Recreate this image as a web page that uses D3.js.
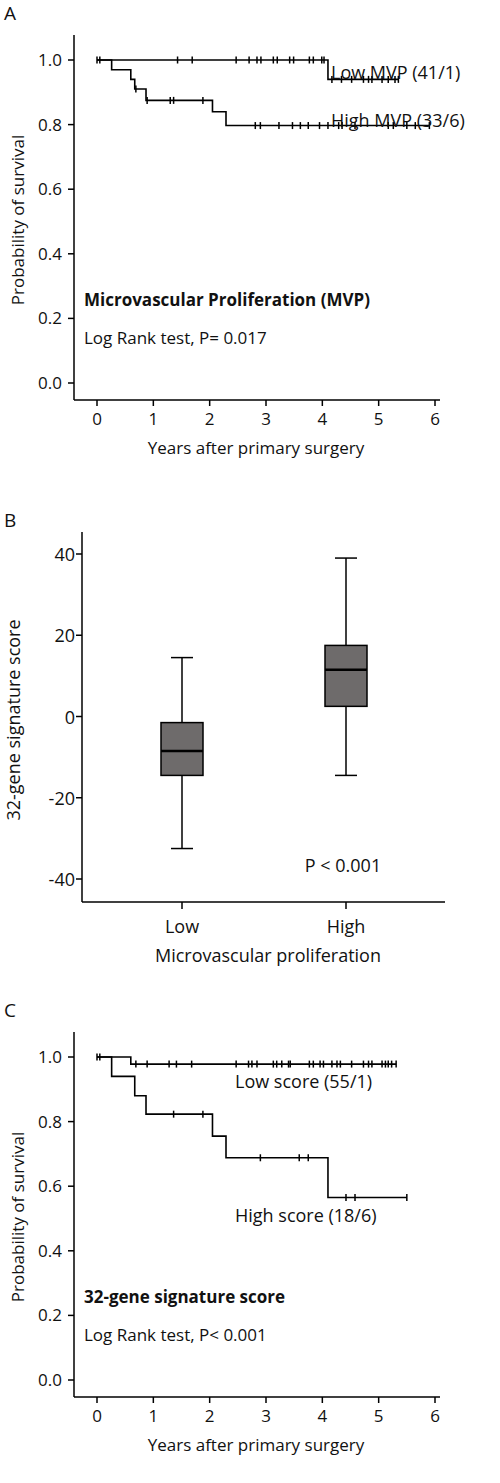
<!DOCTYPE html>
<html><head><meta charset="utf-8">
<script src="https://cdn.jsdelivr.net/npm/d3@7"></script>
<style>body{margin:0;background:#fff}text{font-family:"Open Sans",sans-serif;fill:#111}</style>
</head><body><svg id="chart" width="500" height="1483"></svg>
<script>
// panel A: [time, survival] step points and censor times
const lowMvpSteps = [[0, 1], [4.1, 0.94]]
const lowMvpCensor = [0, 0.05, 1.43, 1.69, 2.47, 2.70, 2.84, 2.91, 3.13, 3.20, 3.42, 3.49, 3.77, 3.84, 3.99, 4.03, 4.17, 4.34, 4.52, 4.73, 4.82, 4.88, 5.06, 5.17, 5.29, 5.35]
const highMvpSteps = [[0, 1], [0.26, 0.97], [0.60, 0.94], [0.67, 0.91], [0.87, 0.875], [2.05, 0.84], [2.29, 0.797]]
const highMvpCensor = [0.69, 0.89, 1.30, 1.36, 1.88, 2.81, 2.90, 3.23, 3.47, 3.61, 3.75, 3.95, 4.10, 4.29, 4.35, 4.58, 5.17, 5.26, 5.50, 5.65, 5.9]

// panel B: box stats [min, q1, median, q3, max]
const groups = ['Low', 'High']
const boxStats = [[-32.5, -14.5, -8.5, -1.5, 14.5], [-14.5, 2.5, 11.5, 17.5, 39]]

// panel C
const lowScoreSteps = [[0, 1], [0.6, 0.978]]
const lowScoreCensor = [0, 0.05, 0.69, 0.89, 1.28, 1.41, 1.68, 2.47, 2.69, 2.75, 2.84, 3.13, 3.19, 3.28, 3.40, 3.43, 3.77, 3.84, 3.96, 4.02, 4.17, 4.26, 4.32, 4.52, 4.73, 4.82, 4.88, 5.06, 5.12, 5.17, 5.23, 5.31]
const highScoreSteps = [[0, 1], [0.26, 0.94], [0.67, 0.88], [0.87, 0.823], [2.05, 0.755], [2.29, 0.688], [4.1, 0.565]]
const highScoreCensor = [1.36, 1.88, 2.90, 3.59, 3.75, 4.42, 4.58, 5.50]

const survTicks = [0, 0.2, 0.4, 0.6, 0.8, 1.0]
const yearTicks = [0, 1, 2, 3, 4, 5, 6]
const scoreTicks = [-40, -20, 0, 20, 40]

const svg = d3.select('#chart')

function kmPanel(top, letter, curves, title, pText) {
  const g = svg.append('g')
  const x = d3.scaleLinear().domain([0, 6]).range([97, 435])
  const y = d3.scaleLinear().domain([0, 1]).range([top + 323, top])
  const base = top + 340

  g.append('text').attr('x', 4).attr('y', top - 40).attr('font-size', 19).text(letter)
  g.append('line').attr('x1', 74).attr('x2', 74).attr('y1', top - 25).attr('y2', base).attr('stroke', '#000').attr('stroke-width', 1.5)
  g.append('line').attr('x1', 74).attr('x2', 440).attr('y1', base).attr('y2', base).attr('stroke', '#000').attr('stroke-width', 1.5)
  survTicks.forEach(t => {
    g.append('line').attr('x1', 68).attr('x2', 74).attr('y1', y(t)).attr('y2', y(t)).attr('stroke', '#000').attr('stroke-width', 1.5)
    g.append('text').attr('x', 62).attr('y', y(t) + 6).attr('text-anchor', 'end').attr('font-size', 17).text(t.toFixed(1))
  })
  yearTicks.forEach(t => {
    g.append('line').attr('x1', x(t)).attr('x2', x(t)).attr('y1', base).attr('y2', base + 6).attr('stroke', '#000').attr('stroke-width', 1.5)
    g.append('text').attr('x', x(t)).attr('y', base + 25).attr('text-anchor', 'middle').attr('font-size', 17).text(t)
  })
  g.append('text').attr('x', 256).attr('y', base + 54).attr('text-anchor', 'middle').attr('font-size', 17).text('Years after primary surgery')
  g.append('text').attr('transform', `translate(24,${top + 160}) rotate(-90)`).attr('text-anchor', 'middle').attr('font-size', 17).text('Probability of survival')

  curves.forEach(c => {
    const end = d3.max(c.censor.concat(c.steps.map(s => s[0])))
    const pts = c.steps.concat([[end, c.steps[c.steps.length - 1][1]]])
    const line = d3.line().x(d => x(d[0])).y(d => y(d[1])).curve(d3.curveStepAfter)
    g.append('path').attr('d', line(pts)).attr('fill', 'none').attr('stroke', '#000').attr('stroke-width', 1.6)
    const survAt = t => { let s = 1; c.steps.forEach(p => { if (p[0] <= t) s = p[1] }); return s }
    c.censor.forEach(t => {
      g.append('line').attr('x1', x(t)).attr('x2', x(t)).attr('y1', y(survAt(t)) - 3.5).attr('y2', y(survAt(t)) + 3.5).attr('stroke', '#000').attr('stroke-width', 1.5)
    })
    g.append('text').attr('x', c.lx).attr('y', c.ly).attr('font-size', 18).text(c.label)
  })
  g.append('text').attr('x', 84).attr('y', top + 246).attr('font-size', 17).attr('font-weight', 'bold').text(title)
  g.append('text').attr('x', 84).attr('y', top + 284).attr('font-size', 17).text(pText)
}

kmPanel(60, 'A', [
  { steps: lowMvpSteps, censor: lowMvpCensor, label: 'Low MVP (41/1)', lx: 331, ly: 79 },
  { steps: highMvpSteps, censor: highMvpCensor, label: 'High MVP (33/6)', lx: 331, ly: 127 }
], 'Microvascular Proliferation (MVP)', 'Log Rank test, P= 0.017')

kmPanel(1057, 'C', [
  { steps: lowScoreSteps, censor: lowScoreCensor, label: 'Low score (55/1)', lx: 235, ly: 1088 },
  { steps: highScoreSteps, censor: highScoreCensor, label: 'High score (18/6)', lx: 235, ly: 1222 }
], '32-gene signature score', 'Log Rank test, P< 0.001')

// panel B boxplot
{
  const g = svg.append('g')
  const x = d3.scalePoint().domain(groups).range([182, 346])
  const y = d3.scaleLinear().domain([-40, 40]).range([879, 554])
  const w = 42
  const base = 902
  g.append('text').attr('x', 4).attr('y', 527).attr('font-size', 19).text('B')
  g.append('line').attr('x1', 82).attr('x2', 82).attr('y1', 532).attr('y2', base).attr('stroke', '#000').attr('stroke-width', 1.5)
  g.append('line').attr('x1', 82).attr('x2', 445).attr('y1', base).attr('y2', base).attr('stroke', '#000').attr('stroke-width', 1.5)
  scoreTicks.forEach(t => {
    g.append('line').attr('x1', 76).attr('x2', 82).attr('y1', y(t)).attr('y2', y(t)).attr('stroke', '#000').attr('stroke-width', 1.5)
    g.append('text').attr('x', 75).attr('y', y(t) + 7).attr('text-anchor', 'end').attr('font-size', 18).text(t)
  })
  groups.forEach((grp, i) => {
    const cx = x(grp)
    g.append('line').attr('x1', cx).attr('x2', cx).attr('y1', base).attr('y2', base + 7).attr('stroke', '#000').attr('stroke-width', 1.5)
    g.append('text').attr('x', cx).attr('y', 933).attr('text-anchor', 'middle').attr('font-size', 18).text(grp)
    const [mn, q1, md, q3, mx] = boxStats[i]
    g.append('line').attr('x1', cx).attr('x2', cx).attr('y1', y(mx)).attr('y2', y(mn)).attr('stroke', '#000').attr('stroke-width', 1.5)
    ;[mn, mx].forEach(v => g.append('line').attr('x1', cx - 11).attr('x2', cx + 11).attr('y1', y(v)).attr('y2', y(v)).attr('stroke', '#000').attr('stroke-width', 1.5))
    g.append('rect').attr('x', cx - w / 2).attr('width', w).attr('y', y(q3)).attr('height', y(q1) - y(q3)).attr('fill', '#6e6b6b').attr('stroke', '#000').attr('stroke-width', 1.5)
    g.append('line').attr('x1', cx - w / 2).attr('x2', cx + w / 2).attr('y1', y(md)).attr('y2', y(md)).attr('stroke', '#000').attr('stroke-width', 2.5)
  })
  g.append('text').attr('x', 268).attr('y', 962).attr('text-anchor', 'middle').attr('font-size', 18).text('Microvascular proliferation')
  g.append('text').attr('transform', 'translate(20,720) rotate(-90)').attr('text-anchor', 'middle').attr('font-size', 18).text('32-gene signature score')
  g.append('text').attr('x', 343).attr('y', 872).attr('text-anchor', 'middle').attr('font-size', 18).text('P < 0.001')
}
</script></body></html>
